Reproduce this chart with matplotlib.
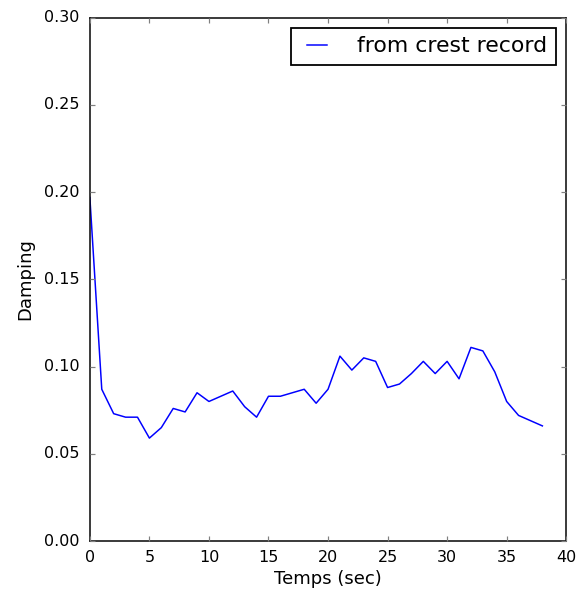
import numpy as np
import matplotlib.pyplot as plt

# damping estimated from the crest record, one value per second
temps = [0, 1, 2, 3, 4, 5, 6, 7, 8, 9, 10, 11, 12, 13, 14, 15, 16, 17, 18, 19,
         20, 21, 22, 23, 24, 25, 26, 27, 28, 29, 30, 31, 32, 33, 34, 35, 36, 37, 38]
damping = [0.197, 0.087, 0.073, 0.071, 0.071, 0.059, 0.065, 0.076, 0.074, 0.085,
           0.080, 0.083, 0.086, 0.077, 0.071, 0.083, 0.083, 0.085, 0.087, 0.079,
           0.087, 0.106, 0.098, 0.105, 0.103, 0.088, 0.090, 0.096, 0.103, 0.096,
           0.103, 0.093, 0.111, 0.109, 0.097, 0.080, 0.072, 0.069, 0.066]

xticks = [0, 5, 10, 15, 20, 25, 30, 35, 40]
yticks = [0.00, 0.05, 0.10, 0.15, 0.20, 0.25, 0.30]

plt.style.use('classic')
fig = plt.figure(figsize=(8, 598 / 72), dpi=72)
ax = fig.add_axes([0.156, 0.0953, 0.827, 0.875])

ax.plot(temps, damping, color='b', linewidth=1.5, label='from crest record')

ax.set_xlim(0, 40)
ax.set_ylim(0, 0.30)
ax.set_xticks(xticks)
ax.set_yticks(yticks)
ax.set_yticklabels(['%.2f' % v for v in yticks])
ax.tick_params(labelsize=16, direction='in', length=5, width=1.2, color='gray')
ax.tick_params(axis='x', pad=9)
ax.tick_params(axis='y', pad=10)
ax.set_xlabel('Temps (sec)', fontsize=18, labelpad=5)
ax.set_ylabel('Damping', fontsize=18, labelpad=10)
for s in ax.spines.values():
    s.set_linewidth(1.5)

leg = ax.legend(loc='upper right', fontsize=22, fancybox=False, borderaxespad=0.45,
                handlelength=1.5, handletextpad=1.1, borderpad=0.4)
leg.get_frame().set_linewidth(1.8)
leg.get_frame().set_edgecolor('black')

fig.savefig('out.png', dpi=72, facecolor='white')
